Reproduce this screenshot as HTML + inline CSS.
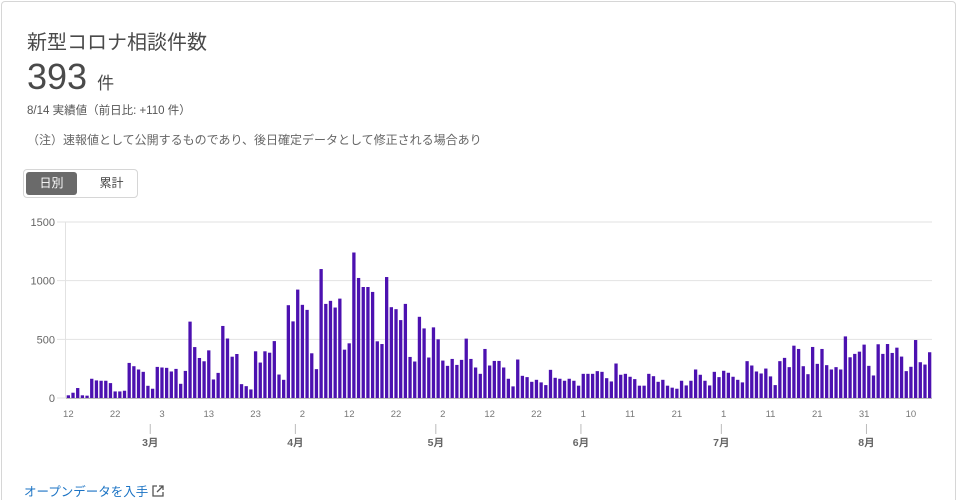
<!DOCTYPE html>
<html style="height:500px;overflow:hidden"><head><meta charset="utf-8">
<style>
body{margin:0;width:959px;height:500px;overflow:hidden;background:#fff;font-family:"Liberation Sans","Noto Sans CJK JP",sans-serif;color:#333;position:relative}
.card{position:absolute;left:1px;top:1px;width:955px;height:499px;border:1px solid #d6d6d6;border-bottom:none;border-radius:4px 4px 0 0;box-sizing:border-box}
.t{position:absolute;white-space:nowrap}
</style></head><body>
<div class="card"></div>
<div class="t" style="left:27px;top:26px;font-size:20px;color:#4a4a4a">新型コロナ相談件数</div>
<div class="t" style="left:27px;top:56px;font-size:36px;color:#4a4a4a">393 <span style="font-size:17px">件</span></div>
<div class="t" style="left:27px;top:102px;font-size:11.5px;color:#555">8/14 実績値（前日比: +110 件）</div>
<div class="t" style="left:27px;top:131px;font-size:12px;color:#666">（注）速報値として公開するものであり、後日確定データとして修正される場合あり</div>
<div class="t" style="left:23px;top:169px;width:115px;height:29px;border:1px solid #d6d6d6;border-radius:4px;box-sizing:border-box"></div>
<div class="t" style="left:26px;top:172px;width:51px;height:23px;background:#6a6a6a;border-radius:3px;color:#fff;font-size:12px;line-height:23px;text-align:center">日別</div>
<div class="t" style="left:86px;top:172px;width:51px;height:23px;color:#444;font-size:12px;line-height:23px;text-align:center">累計</div>
<svg id="chart" width="959" height="500" style="position:absolute;left:0;top:0"></svg>
<div class="t" style="left:24px;top:481px;font-size:12.5px;color:#1b73c4">オープンデータを入手 <svg width="12" height="12" viewBox="0 0 12 12" style="vertical-align:-1px"><path d="M5 1H1v10h10V7M7 1h4v4M11 1L5 7" fill="none" stroke="#555" stroke-width="1.3"/></svg></div>
<script>
const values=[23,45,85,23,20,164,150,147,147,127,56,56,62,299,271,243,223,104,79,265,260,257,226,248,121,231,651,434,341,313,406,158,214,614,507,352,375,118,101,73,398,302,398,386,485,200,155,791,653,924,794,751,381,246,1099,802,828,771,847,412,466,1240,1023,946,946,904,483,460,1031,774,757,664,802,350,311,692,593,345,602,500,319,274,333,282,325,506,333,260,206,418,277,316,316,260,164,99,328,189,178,138,155,133,110,240,172,164,147,164,147,105,206,206,206,229,223,169,141,294,198,206,181,161,105,105,206,186,138,155,105,88,79,147,107,147,243,198,147,107,223,178,232,215,181,155,133,314,277,226,209,251,184,110,314,342,263,446,418,271,203,435,291,418,280,243,263,243,525,347,376,395,455,274,192,458,376,460,384,429,353,229,266,494,305,285,390];
const yTicks=[0,500,1000,1500];
const dayTickIdx=[0,10,20,30,40,50,60,70,80,90,100,110,120,130,140,150,160,170,180];
const dayTickLabels=["12","22","3","13","23","2","12","22","2","12","22","1","11","21","1","11","21","31","10"];
const monthIdx=[18,49,79,110,140,171];
const monthLabels=["3月","4月","5月","6月","7月","8月"];
const svg=document.getElementById('chart');const NS='http://www.w3.org/2000/svg';
const X0=66,X1=932,Y0=398,Y1=222,YMAX=1500;
const bw=(X1-X0)/values.length;
const xs=i=>X0+(i+0.5)*bw;
const ys=v=>Y0-(v/YMAX)*(Y0-Y1);
function mk(tag,a,txt){const e=document.createElementNS(NS,tag);for(const k in a)e.setAttribute(k,a[k]);if(txt!=null)e.textContent=txt;svg.appendChild(e);return e;}
yTicks.forEach(t=>{const y=ys(t);
const g=mk('line',{x1:57,x2:X1,y1:y,y2:y,stroke:'#e2e2e2','stroke-width':1});


const l=mk('text',{x:55,y:y+4,'text-anchor':'end','font-size':11,fill:'#666'},String(t));

});
const ax=mk('line',{x1:X0-0.5,x2:X0-0.5,y1:Y1,y2:Y0,stroke:'#e2e2e2'});


values.forEach((v,i)=>{const r=mk('rect',{x:xs(i)-1.65,y:ys(v),width:3.3,height:Y0-ys(v),fill:'#4c11b0'});

});
const bl=mk('line',{x1:X0,x2:X1,y1:Y0+0.5,y2:Y0+0.5,stroke:'#bbb'});


dayTickIdx.forEach((d,k)=>{const t=mk('text',{x:xs(d),y:417,'text-anchor':'middle','font-size':9.5,fill:'#777'},dayTickLabels[k]);

});
monthIdx.forEach((m,k)=>{const x=X0+m*bw;
const tk=mk('line',{x1:x,x2:x,y1:424,y2:434,stroke:'#bbb'});


const t=mk('text',{x:x,y:446,'text-anchor':'middle','font-size':10.5,'font-weight':'bold',fill:'#666'},monthLabels[k]);

});
</script>
</body></html>
